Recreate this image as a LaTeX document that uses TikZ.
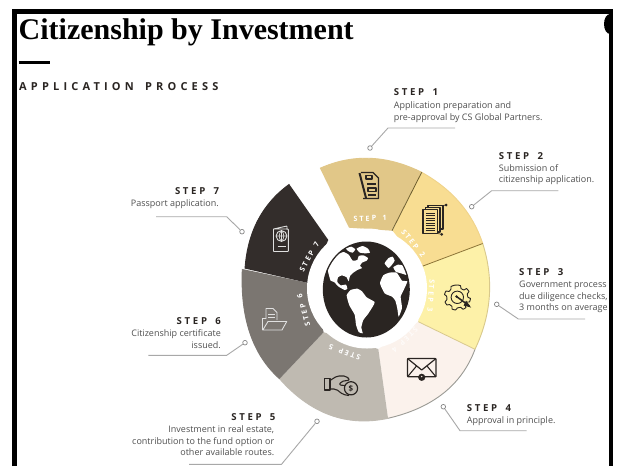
\documentclass[tikz,border=0pt]{standalone}
\usepackage{fontspec}
\setmainfont{Open Sans}
\newfontfamily\titlefont{Liberation Serif}[Scale=1]
\newfontfamily\spacedfont{Open Sans}[LetterSpace=28,WordSpace=1.6]
\newfontfamily\widefont{Open Sans}[LetterSpace=38,WordSpace=1.6]
\usetikzlibrary{calc}
\definecolor{inkc}{HTML}{2A2522}
\definecolor{bodyc}{HTML}{505050}
\definecolor{linec}{HTML}{A8A8A8}
\definecolor{cone}{HTML}{E1C788}
\definecolor{ctwo}{HTML}{F8DD92}
\definecolor{ctwor}{HTML}{F0D38A}
\definecolor{cthree}{HTML}{FDF1A8}
\definecolor{cthreer}{HTML}{D9C98C}
\definecolor{cfour}{HTML}{FBF2EC}
\definecolor{cfourr}{HTML}{9A9A94}
\definecolor{cfive}{HTML}{BFBAB1}
\definecolor{csix}{HTML}{7B7671}
\definecolor{cseven}{HTML}{332D2B}
\definecolor{sepa}{HTML}{6E5E2E}
\definecolor{sepb}{HTML}{8C7436}
\definecolor{cdot}{HTML}{F3E3D8}
\newcommand{\ringpiece}[7]{%
  \coordinate (qq) at ($2*(#3)-0.5*(#2)-0.5*(#4)$);
  \path[fill=#1] (#2) .. controls ($(#2)!0.6667!(qq)$) and ($(#4)!0.6667!(qq)$) .. (#4) -- (#5) -- (#6) -- cycle;
  \draw[#7,line width=0.9pt] (#2) .. controls ($(#2)!0.6667!(qq)$) and ($(#4)!0.6667!(qq)$) .. (#4);
}
\tikzset{
  headtxt/.style={font=\spacedfont\bfseries\fontsize{9.6}{11}\selectfont,text=inkc,inner sep=0pt},
  bodytxt/.style={font=\fontsize{9}{11}\selectfont,text=bodyc,inner sep=0pt},
  lab/.style={font=\spacedfont\bfseries\fontsize{7.2}{9}\selectfont,text=white,inner sep=0pt},
  dotn/.style={circle,draw=linec!80!black,fill=white,line width=0.7pt,minimum size=4.6pt,inner sep=0pt},
  conn/.style={draw=linec,line width=0.9pt},
  ico/.style={draw=inkc,line width=1.1pt,line join=round},
  icow/.style={draw=white!88!black,line width=0.9pt,line join=round}
}
\begin{document}
\begin{tikzpicture}[x=1pt,y=-1pt]
\useasboundingbox (0,0) rectangle (617,466);
\fill[white] (0,0) rectangle (617,466);

% ring pieces
\ringpiece{cone}{320,168.3}{370,158.3}{421.7,172.3}{391.7,230.7}{349,227.7}{cone}
\ringpiece{ctwo}{421.7,172.3}{460,203}{482.7,243.5}{421.7,266.5}{392.5,230.7}{ctwor}
\ringpiece{cthree}{482.7,243.5}{489.3,296.7}{475,349.3}{418.3,321.7}{421.7,266.5}{cthreer}
\ringpiece{cfour}{475,349.3}{443.3,393.3}{388,418.3}{378.3,349}{418.3,321.7}{cfourr}
\ringpiece{cfive}{388,418.3}{330,415}{279.6,378.8}{323.7,332.2}{378.3,349}{cfive}
\ringpiece{csix}{279.6,378.8}{250,333.3}{242.3,269}{308.3,283}{323.7,332.2}{csix}
\ringpiece{cseven}{245,268.6}{258,220}{289.3,184.3}{328.3,240}{308.3,283}{cseven}
\draw[sepa,line width=0.8pt] (421.7,172.3) -- (392,230.7);
\draw[sepb,line width=0.8pt] (482.7,243.5) -- (421.7,266.5);
\draw[cthreer,line width=0.8pt] (475,349.3) -- (418.3,321.7);

% hole and globe
\fill[white] (367,288.5) circle [radius=60];
\fill[inkc] (366.3,289.5) ellipse [x radius=43.5,y radius=48];
\begin{scope}[shift={(318,240)},x=0.3333pt,y=-0.3333pt]
  \clip (145,148) ellipse [x radius=42pt,y radius=46.5pt];
  % North America
  \fill[white] plot[smooth cycle,tension=0.3] coordinates {(30,92) (38,68) (56,46) (76,36) (92,44) (104,62) (118,60) (122,48) (136,46) (150,54) (146,62) (132,68) (126,78) (132,84) (118,90) (106,98) (96,108) (92,124) (86,112) (72,106) (60,112) (58,126) (68,136) (84,134) (88,146) (80,150) (62,140) (48,126) (38,122) (33,106)};
  % Arctic islands
  \fill[white] plot[smooth cycle,tension=0.3] coordinates {(84,26) (100,20) (112,28) (104,38) (92,34)};
  \fill[white] plot[smooth cycle,tension=0.3] coordinates {(116,26) (134,18) (150,26) (156,38) (142,40) (126,38)};
  % South America
  \fill[white] plot[smooth cycle,tension=0.3] coordinates {(86,166) (98,150) (118,146) (132,154) (146,172) (170,186) (164,200) (150,222) (136,240) (130,262) (134,280) (122,276) (114,254) (110,224) (94,196)};
  % Africa
  \fill[white] plot[smooth cycle,tension=0.3] coordinates {(186,130) (196,106) (214,98) (236,98) (252,122) (268,124) (258,148) (248,170) (252,204) (242,230) (238,206) (232,182) (222,170) (200,160)};
  % Europe and Asia fragments
  \fill[white] plot[smooth cycle,tension=0.3] coordinates {(200,70) (212,54) (224,50) (230,62) (222,74) (212,84)};
  \fill[white] plot[smooth cycle,tension=0.3] coordinates {(226,82) (240,74) (262,78) (276,88) (270,106) (256,102) (242,98) (234,96)};
\end{scope}

% step labels inside the ring
\node[lab,rotate=2] (s1) at (370,218.3) {STEP 1};
\node[lab,rotate=-51] (s2) at (413.3,243.3) {STEP 2};
\node[lab,rotate=-94] (s3) at (431,295.7) {STEP 3};
\node[lab,rotate=-135,text=white!70!cfour] (s4) at (405,340) {STEP 4};
\node[lab,rotate=160] (s5) at (344.7,352.3) {STEP 5};
\node[lab,rotate=105] (s6) at (303.7,310) {STEP 6};
\node[lab,rotate=61] (s7) at (309.3,256.7) {STEP 7};

% icon 1
\draw[ico,line width=1.3pt] (361,172.5) -- (373,172.5) -- (378.5,178) -- (378.5,198.5) -- (363,198.5);
\draw[ico,line width=2pt] (359.5,173) -- (366,198);
\draw[ico] (366,175.5) rectangle (372,179);
\draw[ico] (367,184) -- (376,184) (368,188) rectangle (376,191.5) (368,195) -- (376,195);
% icon 2
\draw[ico,fill=ctwo] (428,205.5) rectangle (443,229);
\draw[ico,fill=ctwo] (425.5,207.5) rectangle (440,232);
\draw[ico,fill=ctwo] (423,209.5) rectangle (437.5,233.5);
\foreach \yy in {213,215.5,...,231} {\draw[inkc,line width=0.8pt] (425.5,\yy) -- (435,\yy);}
\fill[inkc] (446,205) circle [radius=1.5] (441.7,234.3) circle [radius=1.5];
\draw[ico,line width=0.6pt] (443,205.5) -- (446,205) (437.5,233.5) -- (441.7,234.3);
% icon 3
\draw[ico,line width=0.9pt] plot[smooth cycle,tension=0.25] coordinates {(457.3,285) (460.5,285.6) (461,288.5) (464,290) (466.5,288.5) (469,291.5) (467.2,294) (468,297.3) (470.5,298.5) (469.5,302) (466.8,302) (465,305) (466,307.5) (463,309.3) (460.8,307.3) (457.3,308) (455.5,310) (452,309) (452,306.5) (449.5,304.5) (447,305) (445,302) (447,299.5) (446.5,296) (444.5,294.5) (446,291) (449,291.5) (451,289) (451,286.5) (454.5,285.2)};
\draw[ico,line width=0.9pt] (457.3,297.3) circle [radius=6.2];
\draw[inkc,line width=1.5pt] (456.5,296.5) -- (469.5,306);
\fill[inkc] (456.5,296.5) circle [radius=1.4] (466,300.5) -- (471,307.5) -- (463.5,305.5) -- cycle;
% icon 4
\draw[ico,line width=1.2pt,rounded corners=0.8pt] (407.5,358.5) rectangle (436,376.8);
\draw[ico,line width=1.2pt] (407.5,358.5) -- (421.7,370) -- (436,358.5);
\draw[ico] (407.5,376.8) -- (416.5,366) (436,376.8) -- (427,366);
\fill[inkc] (421.7,377.3) circle [radius=3.6];
\fill[cdot] (421.7,376.5) circle [radius=0.8];
% icon 5
\draw[ico] (324.3,378.5) rectangle (330,390);
\draw[ico,rounded corners=2pt] (330,380.5) -- (337,376) -- (346,376) -- (350,380) -- (341,381.5) -- (339,385) -- (345,385.5) (330,389) -- (336,389) -- (343,394.5) -- (349,395.5);
\draw[ico,line width=1.2pt] (351,388.3) circle [radius=6.6];
\node[font=\fontsize{8}{8}\selectfont\bfseries,text=inkc,inner sep=0pt] (coin) at (351,388.3) {\$};
% icon 6
\draw[icow] (266,319) -- (266,308.5) -- (273,308.5) -- (277,312.5) -- (277,320);
\draw[icow] (268,314) -- (275,314) (268,317.5) -- (275,317.5);
\draw[icow] (262.8,330) -- (262.8,318) -- (266,318);
\draw[icow] (262.8,330) -- (268,321.5) -- (286.7,321.5) -- (282,330) -- cycle;
% icon 7
\draw[icow,rounded corners=0.6pt] (273.5,229) -- (287,226) -- (287,229.5) (273.5,229) rectangle (288.3,251.5);
\draw[icow] (281.5,236) circle [radius=5.4];
\draw[icow,line width=0.6pt] (276.1,236) -- (286.9,236) (281.5,230.6) -- (281.5,241.4) (281.5,230.6) .. controls (278.5,233) and (278.5,239) .. (281.5,241.4) (281.5,230.6) .. controls (284.5,233) and (284.5,239) .. (281.5,241.4);
\draw[icow,line width=0.9pt] (277.5,246.5) -- (285.5,246.5);

% callouts
\node[headtxt,anchor=base west] (h1) at (393.7,95.3) {STEP 1};
\node[bodytxt,anchor=base west] (t1a) at (393.7,108) {Application preparation and};
\node[bodytxt,anchor=base west] (t1b) at (393.7,120) {pre-approval by CS Global Partners.};
\node[dotn] (d1) at (370,148) {};
\coordinate (b1) at (388,128); \coordinate (e1) at (455,128);
\draw[conn] (d1) -- (b1) -- (e1);

\node[headtxt,anchor=base west] (h2) at (498.7,159) {STEP 2};
\node[bodytxt,anchor=base west] (t2a) at (498.7,171) {Submission of};
\node[bodytxt,anchor=base west] (t2b) at (498.7,182.3) {citizenship application.};
\node[dotn] (d2) at (471.7,206.7) {};
\coordinate (b2) at (491.7,190.7); \coordinate (e2) at (558.3,190.7);
\draw[conn] (d2) -- (b2) -- (e2);

\node[headtxt,anchor=base west] (h3) at (519,275.6) {STEP 3};
\node[bodytxt,anchor=base west] (t3a) at (519,287) {Government process};
\node[bodytxt,anchor=base west] (t3b) at (519,299) {due diligence checks,};
\node[bodytxt,anchor=base west] (t3c) at (519,310.7) {3 months on average};
\node[dotn] (d3) at (496.7,304.3) {};
\coordinate (b3) at (518.3,319); \coordinate (e3) at (585,319);
\draw[conn] (d3) -- (b3) -- (e3);

\node[headtxt,anchor=base west] (h4) at (466.7,411.3) {STEP 4};
\node[bodytxt,anchor=base west] (t4a) at (466.7,423) {Approval in principle.};
\node[dotn] (d4) at (443.3,406.7) {};
\coordinate (b4) at (460,430.7); \coordinate (e4) at (526.7,430.7);
\draw[conn] (d4) -- (b4) -- (e4);

\node[headtxt,anchor=base east] (h5) at (275.6,420.6) {STEP 5};
\node[bodytxt,anchor=base east] (t5a) at (274.4,432.3) {Investment in real estate,};
\node[bodytxt,anchor=base east] (t5b) at (274.4,444.3) {contribution to the fund option or};
\node[bodytxt,anchor=base east] (t5c) at (274.4,455.7) {other available routes.};
\node[dotn] (d5) at (317,421.3) {};
\coordinate (b5) at (281.5,464.3); \coordinate (e5) at (189,464.3);
\draw[conn] (d5) -- (b5) -- (e5);

\node[headtxt,anchor=base east] (h6) at (221,324) {STEP 6};
\node[bodytxt,anchor=base east] (t6a) at (221,336.3) {Citizenship certificate};
\node[bodytxt,anchor=base east] (t6b) at (221,348) {issued.};
\node[dotn] (d6) at (245,342.7) {};
\coordinate (b6) at (226.7,355.3); \coordinate (e6) at (148.3,355.3);
\draw[conn] (d6) -- (b6) -- (e6);

\node[headtxt,anchor=base east] (h7) at (219.3,194) {STEP 7};
\node[bodytxt,anchor=base east] (t7a) at (219,206.3) {Passport application.};
\node[dotn] (d7) at (242,231.7) {};
\coordinate (b7) at (226.7,216.7); \coordinate (e7) at (156,216.7);
\draw[conn] (d7) -- (b7) -- (e7);

% title
\node[font=\titlefont\bfseries\fontsize{30}{32}\selectfont,text=black,inner sep=0pt,anchor=base west] (title) at (18.5,39.5) {Citizenship by Investment};
\draw[black,line width=3pt] (18.5,62) -- (50,62);
\node[font=\widefont\bfseries\fontsize{11}{13}\selectfont,text=inkc,inner sep=0pt,anchor=base west] (sub) at (19,90) {APPLICATION PROCESS};

% frame
\fill[white] (613,0) rectangle (617,466);
\fill[black] (610,24) ellipse [x radius=6,y radius=10];
\fill[white] (613,14) rectangle (617,40);
\draw[black,line width=4.4pt,line join=miter] (14.6,466) -- (14.6,11.5) -- (610.8,11.5) -- (610.8,466);
\end{tikzpicture}
\end{document}
